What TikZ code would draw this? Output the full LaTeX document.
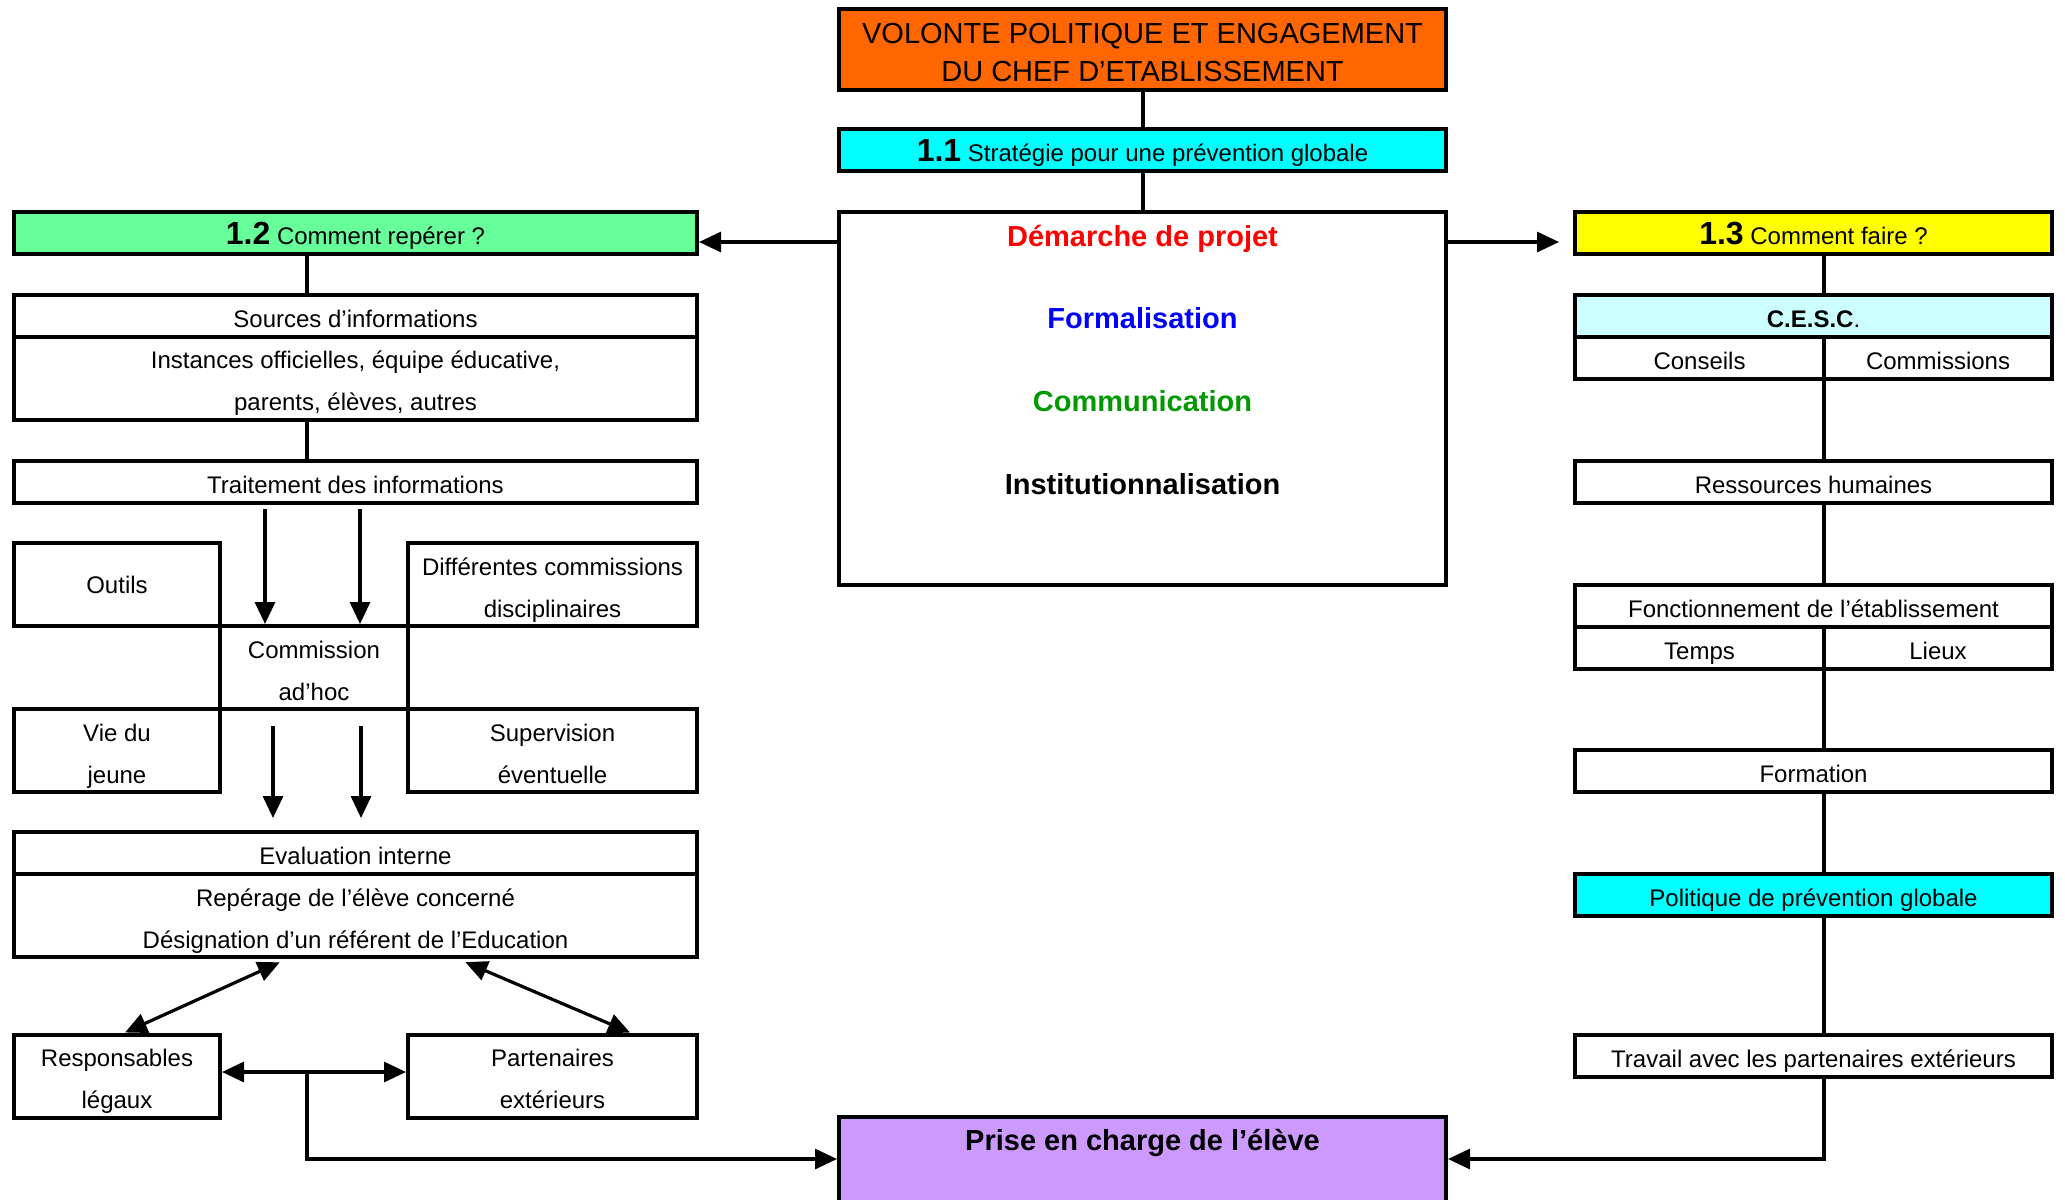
\documentclass[tikz,border=0pt]{standalone}
\usepackage{fontspec}
\setmainfont{Liberation Sans}
\usetikzlibrary{arrows.meta, positioning}

\definecolor{orangebox}{HTML}{FF6600}
\definecolor{cyanbox}{HTML}{00FFFF}
\definecolor{greenbox}{HTML}{66FF99}
\definecolor{yellowbox}{HTML}{FFFF00}
\definecolor{cescbox}{HTML}{CCFFFF}
\definecolor{purplebox}{HTML}{CC99FF}
\definecolor{commgreen}{HTML}{009900}

\newcommand{\secnum}[1]{{\fontsize{16}{16}\selectfont\bfseries #1}}
\newcommand{\topstrut}{\rule{0pt}{16pt}}
\newcommand{\botstrut}{\rule[-4.5pt]{0pt}{4.5pt}}
\newcommand{\titletop}{\rule{0pt}{15pt}}
\newcommand{\titlebot}{\rule[-2pt]{0pt}{2pt}}

\begin{document}
\begin{tikzpicture} [x=0.5pt, y=-0.5pt,
            box/.style = {draw, line width=2pt, inner sep=0pt, align=center,
                font=\fontsize{12}{21}\selectfont},
            row/.style = {minimum height=21pt,
                execute at begin node=\topstrut,
                execute at end node=\botstrut},
            tallrow/.style = {minimum height=41.5pt},
            wide/.style = {minimum width=341.5pt},
            smallL/.style = {minimum width=103pt},
            smallR/.style = {minimum width=144.5pt},
            mid/.style = {minimum width=303.5pt},
            rbox/.style = {minimum width=238.5pt},
            halfL/.style = {minimum width=124.5pt},
            halfR/.style = {minimum width=114pt},
            centretxt/.style = {anchor=base, inner sep=0pt,
                font=\fontsize{14.5}{17}\selectfont\bfseries},
            link/.style = {line width=2pt},
            arr/.style = {line width=1.6pt, -{Triangle[length=11pt,width=10pt]}},
            darr/.style = {line width=1.6pt,
                {Triangle[length=11pt,width=10pt]}-{Triangle[length=11pt,width=10pt]}}]

        \clip (0,0) rectangle (2065,1199);

        % Centre column
        \node (volonte) [box, mid, fill=orangebox, minimum height=40.5pt,
            font=\fontsize{14.5}{19}\selectfont] at (1142.5,49.5)
            {\titletop VOLONTE POLITIQUE ET ENGAGEMENT\\DU CHEF D’ETABLISSEMENT\titlebot};
        \node (strategie) [box, mid, row, fill=cyanbox] at (1142.5,150)
            {\secnum{1.1} Stratégie pour une prévention globale};
        \node (demarche) [box, mid, minimum height=186.5pt] at (1142.5,398.5) {};
        \node (projet) [centretxt, text=red] at (1142.5,246) {Démarche de projet};
        \node (formalis) [centretxt, text=blue] at (1142.5,328.5) {Formalisation};
        \node (communic) [centretxt, text=commgreen] at (1142.5,411) {Communication};
        \node (instit) [centretxt] at (1142.5,494) {Institutionnalisation};

        \node (prise) [box, mid, fill=purplebox, minimum height=50pt] at (1142.5,1167) {};
        \node (prisetxt) [centretxt] at (1142.5,1150) {Prise en charge de l’élève};

        % Left column
        \node (reperer) [box, wide, row, fill=greenbox] at (355.5,233)
            {\secnum{1.2} Comment repérer ?};
        \node (sources) [box, wide, row] at (355.5,316) {Sources d’informations};
        \node (instances) [box, wide, minimum height=41pt] at (355.5,378)
            {\topstrut Instances officielles, équipe éducative,\\parents, élèves, autres\botstrut};
        \node (traitement) [box, wide, row] at (355.5,482) {Traitement des informations};

        \node (outils) [box, smallL, tallrow] at (117,584.5) {Outils};
        \node (discipl) [box, smallR, tallrow] at (552.5,584.5)
            {\topstrut Différentes commissions\\disciplinaires\botstrut};
        \node (adhoc) [box, minimum width=94pt, tallrow] at (314,667.5)
            {\topstrut Commission\\ad’hoc\botstrut};
        \node (viejeune) [box, smallL, tallrow] at (117,750.5) {\topstrut Vie du\\jeune\botstrut};
        \node (supervis) [box, smallR, tallrow] at (552.5,750.5)
            {\topstrut Supervision\\éventuelle\botstrut};

        \node (evaluation) [box, wide, row] at (355.5,853) {Evaluation interne};
        \node (reperage) [box, wide, tallrow] at (355.5,915.5)
            {\topstrut Repérage de l’élève concerné\\Désignation d’un référent de l’Education\botstrut};

        \node (responsables) [box, smallL, tallrow] at (117,1076)
            {\topstrut Responsables\\légaux\botstrut};
        \node (partenaires) [box, smallR, tallrow] at (552.5,1076)
            {\topstrut Partenaires\\extérieurs\botstrut};

        % Right column
        \node (faire) [box, rbox, row, fill=yellowbox] at (1813.5,233)
            {\secnum{1.3} Comment faire ?};
        \node (cesc) [box, rbox, row, fill=cescbox] at (1813.5,316) {{\bfseries C.E.S.C}.};
        \node (conseils) [box, halfL, row] at (1699.5,358) {Conseils};
        \node (commissions) [box, halfR, row] at (1938,358) {Commissions};
        \node (ressources) [box, rbox, row] at (1813.5,482) {Ressources humaines};
        \node (fonction) [box, rbox, row] at (1813.5,606) {Fonctionnement de l’établissement};
        \node (temps) [box, halfL, row] at (1699.5,648) {Temps};
        \node (lieux) [box, halfR, row] at (1938,648) {Lieux};
        \node (formation) [box, rbox, row] at (1813.5,770.5) {Formation};
        \node (politique) [box, rbox, row, fill=cyanbox] at (1813.5,895)
            {Politique de prévention globale};
        \node (travail) [box, rbox, row] at (1813.5,1056)
            {Travail avec les partenaires extérieurs};

        % Guide coordinates
        \coordinate (lcol) at (307,0);
        \coordinate (rcol) at (1824,0);
        \coordinate (toprow) at (0,242);
        \coordinate (midrow) at (0,1072);
        \coordinate (botrow) at (0,1159);
        \coordinate (downA) at (265,0);
        \coordinate (downB) at (360,0);
        \coordinate (downC) at (273,0);
        \coordinate (downD) at (361,0);

        % Links
        \draw [link] (volonte) -- (strategie);
        \draw [link] (strategie) -- (demarche);
        \draw [link] (reperer.south -| lcol) -- (sources.north -| lcol);
        \draw [link] (instances.south -| lcol) -- (traitement.north -| lcol);
        \foreach \a/\b in {faire/cesc, conseils/ressources, ressources/fonction,
                temps/formation, formation/politique, politique/travail}
            \draw [link] (\a.south -| rcol) -- (\b.north -| rcol);

        % Arrows
        \draw [arr] (demarche.west |- toprow) -- (reperer.east |- toprow);
        \draw [arr, shorten >=7pt] (demarche.east |- toprow) -- (faire.west |- toprow);

        \draw [arr, shorten <=2pt] (traitement.south -| downA) -- (adhoc.north -| downA);
        \draw [arr, shorten <=2pt] (traitement.south -| downB) -- (adhoc.north -| downB);
        \draw [arr, shorten <=7.5pt, shorten >=6pt] (adhoc.south -| downC) -- (evaluation.north -| downC);
        \draw [arr, shorten <=7.5pt, shorten >=6pt] (adhoc.south -| downD) -- (evaluation.north -| downD);

        \draw [darr, shorten <=4pt] ([xshift=-34.25pt]reperage.south) -- ([xshift=4pt]responsables.north);
        \draw [darr, shorten <=4pt] ([xshift=51.25pt]reperage.south) -- ([xshift=38.75pt]partenaires.north);
        \draw [darr] (responsables.east |- midrow) -- (partenaires.west |- midrow);

        \draw [arr] (lcol |- midrow) |- (prise.west |- botrow);
        \draw [arr] (travail.south -| rcol) |- (prise.east |- botrow);
\end{tikzpicture}
\end{document}
